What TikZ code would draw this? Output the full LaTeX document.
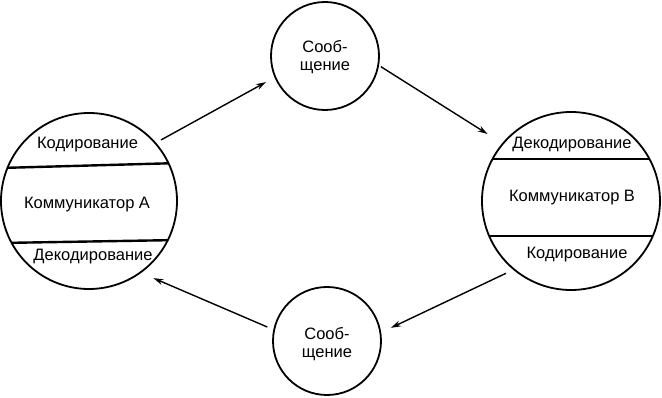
\documentclass[tikz,border=0pt]{standalone}
\usepackage{fontspec}
\setmainfont{Liberation Sans}
\usetikzlibrary{arrows.meta}
\begin{document}
\begin{tikzpicture}[x=1pt,y=-1pt,
  circ/.style={circle,draw,line width=1.8pt,inner sep=0pt},
  lbl/.style={inner sep=0pt,align=center,font=\fontsize{16.5}{18}\selectfont},
  chordline/.style={line width=2.4pt},
  arr/.style={line width=1.4pt,-{Stealth[length=10pt,width=6pt]}}]
\useasboundingbox (0,0) rectangle (662,398);
% circles
\node[circ,minimum size=176pt] (A) at (89,201) {};
\node[circ,minimum size=178pt] (B) at (571,201) {};
\node[circ,minimum size=108pt] (T) at (325,56) {};
\node[circ,minimum size=108pt] (S) at (327,341) {};
% chords
\begin{scope}
  \clip (89,201) circle (88pt);
  \draw[chordline] (0,168) -- (180,163);
  \draw[chordline] (0,243) -- (180,240);
\end{scope}
\begin{scope}
  \clip (571,201) circle (89pt);
  \draw[chordline] (480,159) -- (662,159);
  \draw[chordline] (480,236) -- (662,236);
\end{scope}
% labels
\node[lbl] (a1) at (87.5,145) {Кодирование};
\node[lbl] (a2) at (87,205) {Коммуникатор А};
\node[lbl] (a3) at (93,257) {Декодирование};
\node[lbl] (b1) at (572,145) {Декодирование};
\node[lbl] (b2) at (572,198) {Коммуникатор В};
\node[lbl] (b3) at (577,255) {Кодирование};
\node[lbl] (t1) at (325,57) {Сооб-\\щение};
\node[lbl] (s1) at (327,344) {Сооб-\\щение};
% arrows
\draw[arr,shorten <=5.7pt,shorten >=9.6pt] (A.41.5) -- (T.203.3);
\draw[arr,shorten <=2.2pt,shorten >=17.2pt] (T.-10.5) -- (B.140.3);
\draw[arr,shorten <=8pt,shorten >=10.7pt] (B.230.4) -- (S.9.1);
\draw[arr,shorten <=6.5pt,shorten >=13.2pt] (S.168.9) -- (A.-54.7);
\end{tikzpicture}
\end{document}
